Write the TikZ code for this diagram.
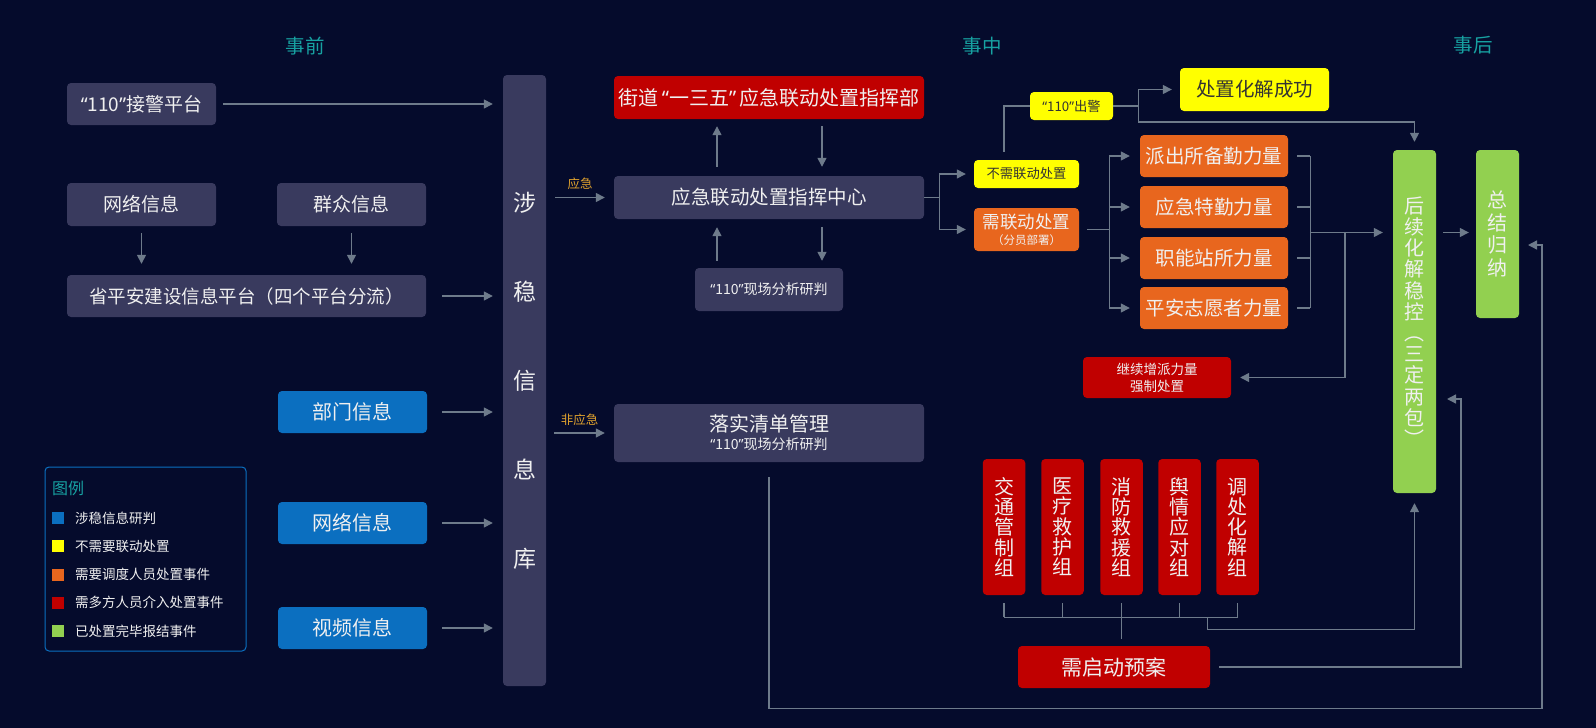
\documentclass[tikz,border=0pt]{standalone}
\usepackage{fontspec}
\setmainfont{Noto Sans CJK SC}
\newfontfamily\quotefont{Noto Sans}
\newcommand\quoted[1]{{\quotefont “}#1{\quotefont ”}}
\usepackage{xcolor}
\usetikzlibrary{arrows.meta}
\definecolor{bg}{HTML}{050B2C}
\definecolor{slate}{HTML}{393A5E}
\definecolor{linec}{HTML}{6E7B8B}
\definecolor{infoblue}{HTML}{0B6FC0}
\definecolor{alarmred}{HTML}{C00000}
\definecolor{deporange}{HTML}{E8661E}
\definecolor{doneyellow}{HTML}{FFFF00}
\definecolor{donegreen}{HTML}{92D050}
\definecolor{headteal}{HTML}{17A2A2}
\definecolor{labelgold}{HTML}{E0A22E}
\definecolor{darktext}{HTML}{333333}

\begin{document}
\begin{tikzpicture}[x=1pt,y=-1pt,
  box/.style={rounded corners=4pt,inner sep=0pt,minimum height=42pt,text=white!94!black,font=\fontsize{19}{22}\selectfont},
  slatebox/.style={box,fill=slate},
  bluebox/.style={box,fill=infoblue,font=\fontsize{20}{22}\selectfont},
  redbox/.style={box,fill=alarmred},
  orangebox/.style={box,fill=deporange,font=\fontsize{19.5}{22}\selectfont},
  yellowbox/.style={box,fill=doneyellow,text=darktext},
  greenbox/.style={box,fill=donegreen,align=center,minimum width=43pt},
  groupbox/.style={box,fill=alarmred,align=center,minimum width=42.5pt,minimum height=136pt,font=\fontsize{20}{20.3}\selectfont},
  head/.style={text=headteal,font=\fontsize{19.5}{22}\selectfont},
  tag/.style={text=labelgold,inner sep=0pt,font=\fontsize{12.5}{14}\selectfont},
  keytext/.style={text=white!94!black,inner sep=0pt,anchor=west,font=\fontsize{13.5}{16}\selectfont},
  ln/.style={draw=linec,line width=1.4pt},
  arr/.style={ln,-{Triangle[length=9pt,width=9pt]}}]
\path[fill=bg] (0,0) rectangle (1596,728);

\node[head] (before) at (305,46) {事前};
\node[head] (during) at (982,46) {事中};
\node[head] (after) at (1473,45) {事后};

\node[slatebox,minimum width=149pt] (alarm) at (141.5,104) {\quoted{110}接警平台};
\node[slatebox,minimum width=149pt,minimum height=43pt] (net1) at (141.5,204.5) {网络信息};
\node[slatebox,minimum width=149pt,minimum height=43pt] (mass) at (351.5,204.5) {群众信息};
\node[slatebox,minimum width=359pt,font=\fontsize{18.5}{22}\selectfont] (prov) at (246.5,296) {省平安建设信息平台（四个平台分流）};
\node[bluebox,minimum width=149pt] (dept) at (352.5,412) {部门信息};
\node[bluebox,minimum width=149pt] (net2) at (352.5,523) {网络信息};
\node[bluebox,minimum width=149pt] (video) at (352.5,628) {视频信息};
\node[slatebox,minimum width=43pt,minimum height=611pt,align=center,font=\fontsize{23}{89}\selectfont] (db) at (524.5,380.5) {涉\\稳\\信\\息\\库};

\node[draw=infoblue,line width=1pt,rounded corners=4pt,minimum width=201pt,minimum height=184pt] (legend) at (145.5,559) {};
\node[text=headteal,inner sep=0pt,anchor=west,font=\fontsize{16}{18}\selectfont] (legtitle) at (52,488) {图例};
\foreach \c/\t [count=\i from 0] in {infoblue/涉稳信息研判,doneyellow/不需要联动处置,deporange/需要调度人员处置事件,alarmred/需多方人员介入处置事件,donegreen/已处置完毕报结事件} {
  \node[fill=\c,minimum size=12pt,inner sep=0pt] (key\i) at (58,{518+28.25*\i}) {};
  \node[keytext] (keylabel\i) at (75,{518+28.25*\i}) {\t};
}

\node[redbox,minimum width=310pt,minimum height=43pt,font=\fontsize{20}{22}\selectfont] (cmd) at (769,97.5) {街道\,\quoted{一三五}\,应急联动处置指挥部};
\node[slatebox,minimum width=310pt,minimum height=43pt,font=\fontsize{19.5}{22}\selectfont] (center) at (769,197.5) {应急联动处置指挥中心};
\node[slatebox,minimum width=148pt,minimum height=43pt,font=\fontsize{14}{16}\selectfont] (site) at (769,289.5) {\quoted{110}现场分析研判};
\node[slatebox,minimum width=310pt,minimum height=58pt,align=center,font=\fontsize{20}{19}\selectfont] (list) at (769,433) {落实清单管理\\[-1pt]{\fontsize{14}{16}\selectfont \quoted{110}现场分析研判}};

\node[yellowbox,minimum width=105pt,minimum height=28pt,font=\fontsize{13.3}{16}\selectfont] (noneed) at (1026.5,174) {不需联动处置};
\node[orangebox,minimum width=105pt,minimum height=43pt,align=center,font=\fontsize{17.5}{16}\selectfont] (need) at (1026.5,229.5) {需联动处置\\{\fontsize{11.5}{13}\selectfont （分员部署）}};
\node[yellowbox,minimum width=83pt,minimum height=28pt,font=\fontsize{13.3}{16}\selectfont] (police) at (1071.5,106) {\quoted{110}出警};
\node[yellowbox,minimum width=149pt,minimum height=43pt,font=\fontsize{19.5}{22}\selectfont] (success) at (1254.5,89.5) {处置化解成功};
\node[orangebox,minimum width=148pt] (force1) at (1214,156) {派出所备勤力量};
\node[orangebox,minimum width=148pt] (force2) at (1214,207) {应急特勤力量};
\node[orangebox,minimum width=148pt] (force3) at (1214,258) {职能站所力量};
\node[orangebox,minimum width=148pt] (force4) at (1214,308) {平安志愿者力量};
\node[redbox,minimum width=148pt,minimum height=41pt,align=center,font=\fontsize{13.5}{17}\selectfont] (more) at (1157,377.5) {继续增派力量\\强制处置};

\node[greenbox,minimum height=343pt,font=\fontsize{20}{21.2}\selectfont] (later) at (1414.5,321.5) {后\\续\\化\\解\\稳\\控\\︵\\三\\定\\两\\包\\︶};
\node[greenbox,minimum height=168pt,font=\fontsize{20}{22.7}\selectfont] (sum) at (1497.5,234) {总\\结\\归\\纳};

\node[groupbox] (grp1) at (1004,527) {交\\通\\管\\制\\组};
\node[groupbox] (grp2) at (1062.5,527) {医\\疗\\救\\护\\组};
\node[groupbox] (grp3) at (1121.5,527) {消\\防\\救\\援\\组};
\node[groupbox] (grp4) at (1179.5,527) {舆\\情\\应\\对\\组};
\node[groupbox] (grp5) at (1237.5,527) {调\\处\\化\\解\\组};
\node[redbox,minimum width=192pt,font=\fontsize{21}{22}\selectfont] (plan) at (1114,667) {需启动预案};

\coordinate (merge) at (1310,232.5);
\coordinate (backin) at (1447,399);
\coordinate (sumin) at (1528,245);

\draw[arr] ([xshift=7pt]alarm.east) -- ([xshift=-10pt]alarm.east -| db.west);
\draw[arr] ([yshift=-7pt]net1.south) -- ([yshift=11pt]net1.south |- prov.north);
\draw[arr] ([yshift=-7pt]mass.south) -- ([yshift=11pt]mass.south |- prov.north);
\draw[arr] ([xshift=16pt]prov.east) -- ([xshift=-10pt]prov.east -| db.west);
\foreach \s in {dept,net2,video}
  \draw[arr] ([xshift=15pt]\s.east) -- ([xshift=-10pt]\s.east -| db.west);

\draw[arr] ([xshift=9pt]db.east |- center.west) -- ([xshift=-9pt]center.west) node[tag,midway,above=7pt] (urgent) {应急};
\draw[arr] ([xshift=8pt]db.east |- list.west) -- ([xshift=-9pt]list.west) node[tag,midway,above=7pt] (nonurgent) {非应急};
\draw[arr] ([xshift=-52pt,yshift=9pt]center.north) -- ([xshift=-52pt,yshift=-7pt]center.north |- cmd.south);
\draw[arr] ([xshift=53pt,yshift=-7pt]cmd.south) -- ([xshift=53pt,yshift=9pt]cmd.south |- center.north);
\draw[arr] ([xshift=-52pt,yshift=7pt]site.north) -- ([xshift=-52pt,yshift=-8pt]center.south);
\draw[arr] ([xshift=53pt,yshift=-8pt]center.south) -- ([xshift=53pt,yshift=7pt]site.north);

\draw[ln] (center.east) -- ++(15pt,0) coordinate (split);
\draw[arr] (split) |- ([xshift=-8pt]noneed.west);
\draw[arr] (split) |- ([xshift=-8pt]need.west);
\draw[ln] ([xshift=-22.5pt,yshift=8pt]noneed.north) |- (police.west);
\draw[ln] (police.east) -- ++(25pt,0) coordinate (fork);
\draw[arr] (fork) |- ([xshift=-8pt]success.west);
\draw[arr] (fork) -- ++(0,-16pt) -| ([yshift=8pt]later.north);

\draw[ln] ([xshift=8pt]need.east) -- ++(22pt,0) coordinate (fan);
\foreach \f in {force1,force2,force3,force4} {
  \draw[arr] (fan) |- ([xshift=-10pt]\f.west);
  \draw[ln] ([xshift=9pt]\f.east) -- ([xshift=22pt]\f.east);
}
\draw[ln] ([xshift=22pt]force1.east) -- ([xshift=22pt]force4.east);
\draw[arr] (merge) -- ([xshift=-10pt]merge -| later.west);
\draw[arr] ([xshift=35pt]merge) |- ([xshift=9pt]more.east);
\draw[arr] ([xshift=7pt]later.east |- merge) -- ([xshift=-7pt]sum.west |- merge);

\foreach \g in {grp1,grp2,grp3,grp4,grp5}
  \draw[ln] ([yshift=-8pt]\g.south) -- ([yshift=-22pt]\g.south);
\draw[ln] ([yshift=-22pt]grp1.south) -- ([yshift=-22pt]grp5.south);
\draw[ln] ([yshift=-22pt]grp3.south) -- ([yshift=7pt]grp3.south |- plan.north);
\draw[arr] ([xshift=-30pt,yshift=-22pt]grp5.south) -- ++(0,-12pt) -| ([yshift=-10pt]later.south);
\draw[arr] ([xshift=9pt]plan.east) -| ([xshift=14pt]backin) -- (backin);
\draw[arr] ([yshift=-15pt]list.south) -- ++(0,-231pt) -| ([xshift=14pt]sumin) -- (sumin);
\end{tikzpicture}
\end{document}
